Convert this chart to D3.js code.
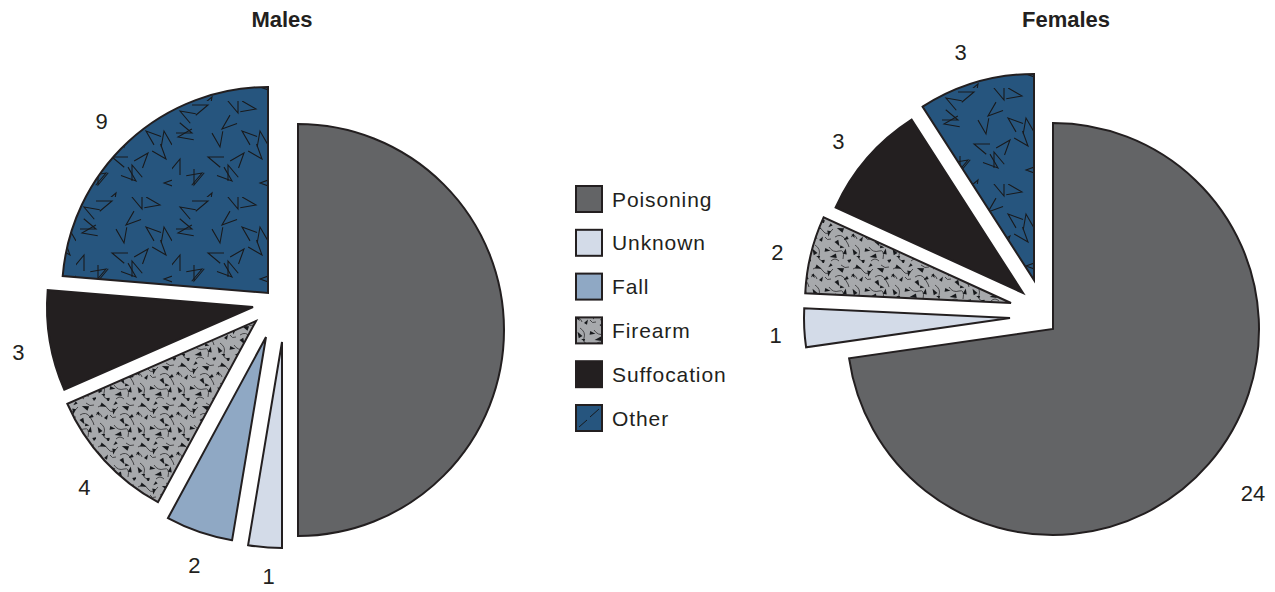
<!DOCTYPE html>
<html><head><meta charset="utf-8">
<script src="https://cdn.jsdelivr.net/npm/d3@7"></script>
<style>
html,body{margin:0;padding:0;background:#fff;}
svg{display:block;}
text{font-family:"Liberation Sans",Arial,sans-serif;fill:#231f20;}
</style></head><body>
<svg id="chart" width="1275" height="592"></svg>
<script>
// ---------- data ----------
const categories = ["Poisoning","Unknown","Fall","Firearm","Suffocation","Other"];
const malesValues = [19,1,2,4,3,9];
const femalesValues = [24,1,0,2,3,3];
const malesLabelShown = [false,true,true,true,true,true];
const femalesLabelShown = [true,true,true,true,true,true];
const chartTitles = ["Males","Females"];

// ---------- layout / style ----------
const fills = ["#636466","#d3dbe8","#8fa8c4","url(#pat-firearm)","#231f20","url(#pat-other)"];
const strokeCol = "#231f20";
const R = 206;
// per-slice explode offsets (slice displacement, pixels)
const malesExplode = [[0,0],[-16,12],[-32,7],[-42,-9],[-45,-23],[-30,-37]];
const femalesExplode = [[0,0],[-43,-11],[0,0],[-42,-26],[-30,-36],[-19,-49]];
const labelExtra = [20,-4,0,0,0,0];
const labelAngleShift = -1.5 * Math.PI / 180;

const svg = d3.select("#chart");
const defs = svg.append("defs");

// Other pattern: blue with V marks
const po = defs.append("pattern").attr("id","pat-other").attr("patternUnits","userSpaceOnUse")
  .attr("width",96).attr("height",96);
po.append("rect").attr("width",96).attr("height",96).attr("fill","#26557e");
const vMarks = [[8,10,30],[36,4,160],[66,12,250],[88,30,80],[20,32,200],[50,28,320],[72,52,130],
  [8,58,110],[36,56,20],[60,80,220],[22,84,290],[88,82,0],[48,46,260],[70,30,40],[30,72,150],
  [84,8,190],[6,36,350],[56,64,70],[90,58,230],[40,92,120]];
vMarks.forEach(([x,y,r])=>{
  const a1=(r-20)*Math.PI/180, a2=(r+20)*Math.PI/180, L=16;
  po.append("path").attr("d",`M${x+L*Math.cos(a1)},${y+L*Math.sin(a1)}L${x},${y}L${x+L*Math.cos(a2)},${y+L*Math.sin(a2)}`)
    .attr("fill","none").attr("stroke","#17191c").attr("stroke-width",1.1);
});

// Firearm pattern: gray with black specks and squiggles
const pf = defs.append("pattern").attr("id","pat-firearm").attr("patternUnits","userSpaceOnUse")
  .attr("width",40).attr("height",40);
pf.append("rect").attr("width",40).attr("height",40).attr("fill","#a7a9ac");
const squig = ["M2,6Q8,2 12,8T22,6","M24,14Q30,10 34,16T38,24","M4,22Q10,26 8,32T14,38","M18,24Q22,30 28,28T32,36",
  "M14,14Q16,18 20,16","M30,2Q34,6 38,4","M0,14Q4,10 6,16","M20,38Q24,34 28,38"];
squig.forEach(d=>pf.append("path").attr("d",d).attr("fill","none").attr("stroke","#39393b").attr("stroke-width",0.9));
const specks = [[6,4,20,5],[18,9,100,4.5],[31,7,200,5.5],[10,17,300,4],[26,19,60,5],[36,15,150,4],
  [4,30,240,5],[15,27,10,4.5],[24,33,170,5.5],[34,30,280,4.5],[12,38,80,4],[38,38,330,4],
  [20,2,140,3.5],[2,12,60,3.5],[30,24,10,3.5],[8,34,200,3]];
specks.forEach(([x,y,r,s])=>{
  const pts=[0,120,240].map((a,i)=>{const ang=(a+r)*Math.PI/180; const rr=i==0?s:s*0.5; return [x+rr*Math.cos(ang),y+rr*Math.sin(ang)];});
  pf.append("path").attr("d","M"+pts.map(p=>p.join(",")).join("L")+"Z").attr("fill","#17191c");
});

const pie = d3.pie().sort(null).value(d=>d.value);
const arc = d3.arc().innerRadius(0).outerRadius(R);

function drawPie(cx, cy, values, explode, shown, title, titleX){
  const data = categories.map((c,i)=>({cat:c, value:values[i], i}));
  const arcs = pie(data);
  const g = svg.append("g").attr("transform",`translate(${cx},${cy})`);
  arcs.filter(a=>a.data.value>0).forEach(a=>{
    const [dx,dy] = explode[a.data.i];
    g.append("path").attr("d",arc(a)).attr("transform",`translate(${dx},${dy})`)
      .attr("fill",fills[a.data.i]).attr("stroke",strokeCol).attr("stroke-width",2)
      .attr("stroke-linejoin","miter");
    if(shown[a.data.i]){
      const mid=(a.startAngle+a.endAngle)/2 + labelAngleShift;
      const d=R+33+labelExtra[a.data.i];
      g.append("text").attr("x",dx+Math.sin(mid)*d).attr("y",dy-Math.cos(mid)*d)
        .attr("text-anchor","middle").attr("dominant-baseline","central")
        .attr("font-size",22).text(a.data.value);
    }
  });
  svg.append("text").attr("x",titleX).attr("y",27).attr("text-anchor","middle")
    .attr("font-size",22).attr("font-weight","bold").text(title);
}

drawPie(298,330,malesValues,malesExplode,malesLabelShown,chartTitles[0],282);
drawPie(1053,329,femalesValues,femalesExplode,femalesLabelShown,chartTitles[1],1066);

// legend
const lg = svg.append("g").attr("transform","translate(576,186)");
categories.forEach((c,i)=>{
  const y=i*43.8;
  lg.append("rect").attr("x",0).attr("y",y).attr("width",26).attr("height",26)
    .attr("fill",i==5?"#26557e":fills[i]).attr("stroke",strokeCol).attr("stroke-width",2);
  if(i==5){
    lg.append("path").attr("d",`M3,${y+22}L11,${y+15}M14,${y+12}L23,${y+4}`).attr("stroke","#17191c").attr("stroke-width",1);
  }
  lg.append("text").attr("x",36).attr("y",y+13).attr("dominant-baseline","central")
    .attr("font-size",21).attr("letter-spacing",0.9).text(c);
});
</script>
</body></html>
